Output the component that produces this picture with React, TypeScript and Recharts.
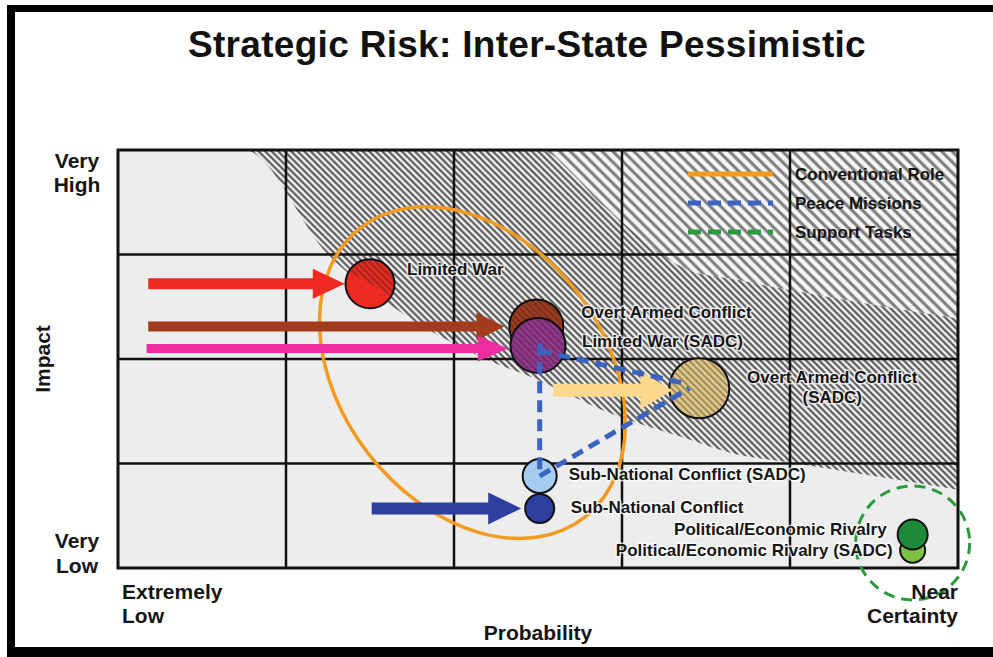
import React from 'react';
import {
  ComposedChart,
  XAxis,
  YAxis,
  Area,
  Scatter,
  ReferenceArea,
  ReferenceLine,
  ReferenceDot,
  Legend,
} from 'recharts';

const FONT = '"Liberation Sans", Arial, Helvetica, sans-serif';

// probability 0..5 (five columns), impact 0..4 (four rows)
const probabilityTicks = [0, 5];
const probabilityTickText = ['Extremely|Low', 'Near|Certainty'];
const impactTicks = [0, 4];
const impactTickText = ['Very|Low', 'Very|High'];
const gridProbability = [1, 2, 3, 4];
const gridImpact = [1, 2, 3];

// edges of the hatched risk band
const bandProbability = [0, 0.75, 1.25, 1.7, 2.2, 2.5, 2.9, 3.4, 3.65, 4.0, 4.5, 5];
const bandLow = [4, 4, 3.0, 2.43, 1.99, 1.8, 1.5, 1.23, 1.1, 1.01, 0.88, 0.75];
const bandHigh = [4, 4, 4, 4, 4, 4, 3.45, 2.85, 2.77, 2.66, 2.52, 2.39];

// risks (drawn in this order)
const riskNames = [
  'Political/Economic Rivalry (SADC)',
  'Political/Economic Rivalry',
  'Limited War',
  'Overt Armed Conflict',
  'Limited War (SADC)',
  'Overt Armed Conflict (SADC)',
  'Sub-National Conflict (SADC)',
  'Sub-National Conflict',
];
const riskLabels = [
  'Political/Economic Rivalry (SADC)',
  'Political/Economic Rivalry',
  'Limited War',
  'Overt Armed Conflict',
  'Limited War (SADC)',
  'Overt Armed Conflict\n(SADC)',
  'Sub-National Conflict (SADC)',
  'Sub-National Conflict',
];
const riskProbability = [4.73, 4.73, 1.5, 2.49, 2.5, 3.46, 2.51, 2.51];
const riskImpact = [0.17, 0.32, 2.72, 2.31, 2.13, 1.72, 0.88, 0.57];

// shifts towards the risks
const shiftNames = [
  'Limited War',
  'Overt Armed Conflict',
  'Limited War (SADC)',
  'Sub-National Conflict',
  'Overt Armed Conflict (SADC)',
];
const shiftFrom = [0.18, 0.18, 0.17, 1.51, 2.59];
const shiftTo = [1.35, 2.3, 2.32, 2.4, 3.3];
const shiftImpact = [2.72, 2.31, 2.1, 0.57, 1.7];

// peace mission links
const peaceFrom = [
  { x: 2.51, y: 2.15 },
  { x: 2.51, y: 2.08 },
  { x: 2.51, y: 0.88 },
];
const peaceTo = [
  { x: 2.51, y: 0.88 },
  { x: 3.39, y: 1.76 },
  { x: 3.4, y: 1.72 },
];

// role groupings
const conventionalCentre = { x: 2.11, y: 1.87 };
const supportCentre = { x: 4.73, y: 0.24 };

const legendNames = ['Conventional Role', 'Peace Missions', 'Support Tasks'];

const bandRows = bandProbability.map((x, i) => ({
  x,
  dense: [bandLow[i], bandHigh[i]],
  wide: [bandHigh[i], 4],
}));
const risks = riskNames.map((name, i) => ({
  name,
  label: riskLabels[i],
  x: riskProbability[i],
  y: riskImpact[i],
}));

const riskStyle: Record<string, any> = {
  'Political/Economic Rivalry (SADC)': { fill: '#7ec242', r: 12.5, hatch: 'none', dx: -20, dy: 6, anchor: 'end' },
  'Political/Economic Rivalry': { fill: '#1d8b3a', r: 15, hatch: 'none', dx: -26, dy: 0, anchor: 'end' },
  'Limited War': { fill: '#ec2a1f', r: 24.5, hatch: 'half', dx: 37, dy: -9, anchor: 'start' },
  'Overt Armed Conflict': { fill: '#a53b1d', r: 27, hatch: 'full', dx: 45, dy: -9, anchor: 'start' },
  'Limited War (SADC)': { fill: '#97378f', r: 27.5, hatch: 'full', dx: 44, dy: 2, anchor: 'start' },
  'Overt Armed Conflict (SADC)': { fill: '#e4c987', r: 30, hatch: 'full', dx: 133, dy: -5, anchor: 'middle' },
  'Sub-National Conflict (SADC)': { fill: '#a4cdef', r: 17, hatch: 'none', dx: 29, dy: 4, anchor: 'start' },
  'Sub-National Conflict': { fill: '#2c3e9e', r: 14.5, hatch: 'none', dx: 31, dy: 5, anchor: 'start' },
};

const arrowStyle: Record<string, any> = {
  'Limited War': { color: '#ee2a22', shaft: 11, headW: 30, headL: 32 },
  'Overt Armed Conflict': { color: '#a23a1c', shaft: 10, headW: 28, headL: 28 },
  'Limited War (SADC)': { color: '#ee2b9f', shaft: 9, headW: 26, headL: 30 },
  'Sub-National Conflict': { color: '#2d3f9f', shaft: 12, headW: 32, headL: 33 },
  'Overt Armed Conflict (SADC)': { color: '#fcd98c', shaft: 13, headW: 38, headL: 32 },
};

const legendStyle = [
  { color: '#f39a1f', dash: undefined },
  { color: '#3b63c0', dash: '13 7' },
  { color: '#2a9a3e', dash: '13 7' },
];

const textBold = { fontFamily: FONT, fontWeight: 700, fill: '#151515' };

const makeArrow = (name: string) => (p: any) => {
  const st = arrowStyle[name];
  const x1 = Number(p.x1);
  const x2 = Number(p.x2);
  const y = Number(p.y1);
  const bx = x2 - st.headL;
  const h = st.shaft / 2;
  const hw = st.headW / 2;
  const pts = [
    [x1, y - h], [bx, y - h], [bx, y - hw], [x2, y], [bx, y + hw], [bx, y + h], [x1, y + h],
  ];
  return <polygon points={pts.map((q) => q.join(',')).join(' ')} fill={st.color} />;
};

const Bubble = (p: any) => {
  const st = riskStyle[p.payload.name];
  const { cx, cy } = p;
  const r = st.r;
  let overlay = null;
  if (st.hatch === 'full') {
    overlay = <circle cx={cx} cy={cy} r={r} fill="url(#hatchOver)" />;
  } else if (st.hatch === 'half') {
    const a = (deg: number) => {
      const t = (deg * Math.PI) / 180;
      return `${cx + r * Math.cos(t)} ${cy + r * Math.sin(t)}`;
    };
    overlay = <path d={`M ${a(-150)} A ${r} ${r} 0 0 1 ${a(30)} Z`} fill="url(#hatchOver)" />;
  }
  return (
    <g>
      <circle cx={cx} cy={cy} r={r} fill={st.fill} />
      {overlay}
      <circle cx={cx} cy={cy} r={r} fill="none" stroke="#111" strokeWidth={2} />
    </g>
  );
};

const RiskLabel = (p: any) => {
  const st = riskStyle[p.payload.name];
  const lines = String(p.payload.label).split('\n');
  const x = p.cx + st.dx;
  return (
    <text
      x={x}
      y={p.cy + st.dy}
      textAnchor={st.anchor}
      fontSize={17}
      {...textBold}
      stroke="#ffffff"
      strokeOpacity={0.75}
      strokeWidth={3}
      strokeLinejoin="round"
      paintOrder="stroke"
    >
      {lines.map((l, i) => (
        <tspan key={i} x={x} dy={i === 0 ? 0 : 20}>
          {l}
        </tspan>
      ))}
    </text>
  );
};

const ProbabilityTick = (p: any) => {
  const i = probabilityTicks.indexOf(p.payload.value);
  if (i < 0) return <g />;
  const [a, b] = probabilityTickText[i].split('|');
  const end = i === probabilityTicks.length - 1;
  const x = end ? p.x : p.x + 4;
  return (
    <text x={x} y={p.y} textAnchor={end ? 'end' : 'start'} fontSize={21} {...textBold}>
      <tspan x={x} dy={31}>{a}</tspan>
      <tspan x={x} dy={24}>{b}</tspan>
    </text>
  );
};

const ImpactTick = (p: any) => {
  const i = impactTicks.indexOf(p.payload.value);
  if (i < 0) return <g />;
  const [a, b] = impactTickText[i].split('|');
  const top = i === impactTicks.length - 1;
  const x = p.x - 41;
  return (
    <text x={x} y={p.y} textAnchor="middle" fontSize={21} {...textBold}>
      <tspan x={x} dy={top ? 18 : -20}>{a}</tspan>
      <tspan x={x} dy={top ? 24 : 25}>{b}</tspan>
    </text>
  );
};

const ImpactTitle = (p: any) => {
  const vb = p.viewBox || { x: 38, y: 150, width: 80, height: 418 };
  const x = vb.x + 12;
  const y = vb.y + vb.height / 2;
  return (
    <text x={x} y={y} transform={`rotate(-90 ${x} ${y})`} textAnchor="middle" fontSize={21} {...textBold}>
      Impact
    </text>
  );
};

const RoleLegend = () => (
  <svg width={300} height={90}>
    {legendNames.map((name, i) => (
      <g key={name}>
        <line
          x1={8}
          x2={93}
          y1={16 + i * 29}
          y2={16 + i * 29}
          stroke={legendStyle[i].color}
          strokeWidth={5}
          strokeDasharray={legendStyle[i].dash}
        />
        <text x={115} y={22 + i * 29} fontSize={17} {...textBold}>
          {name}
        </text>
      </g>
    ))}
  </svg>
);

export default function App() {
  return (
    <div style={{ position: 'absolute', left: 0, top: 0, width: 993, height: 657, background: '#fff' }}>
      <div
        style={{
          position: 'absolute',
          left: 7,
          top: 5,
          width: 986,
          height: 652,
          boxSizing: 'border-box',
          borderLeft: '8px solid #000',
          borderTop: '7px solid #000',
          borderBottom: '10px solid #000',
        }}
      />
      <div
        style={{
          position: 'absolute',
          left: 127,
          top: 26,
          width: 800,
          textAlign: 'center',
          fontFamily: FONT,
          fontWeight: 700,
          fontSize: 37,
          lineHeight: '37px',
          letterSpacing: 0.3,
          whiteSpace: 'nowrap',
          color: '#111',
        }}
      >
        Strategic Risk: Inter-State Pessimistic
      </div>
      <div style={{ position: 'absolute', left: 0, top: 0 }}>
        <ComposedChart
          width={993}
          height={657}
          data={bandRows}
          margin={{ top: 150, right: 35, bottom: 9, left: 38 }}
        >
          <defs>
            <pattern id="hatchDense" patternUnits="userSpaceOnUse" width="4.6" height="4.6" patternTransform="rotate(-45)">
              <rect width="4.6" height="4.6" fill="#f2f2f2" />
              <line x1="2.3" y1="0" x2="2.3" y2="4.6" stroke="#4a4a4a" strokeWidth="2" />
            </pattern>
            <pattern id="hatchWide" patternUnits="userSpaceOnUse" width="7.5" height="7.5" patternTransform="rotate(-45)">
              <rect width="7.5" height="7.5" fill="#f6f6f6" />
              <line x1="3.75" y1="0" x2="3.75" y2="7.5" stroke="#7a7a7a" strokeWidth="3" />
            </pattern>
            <pattern id="hatchOver" patternUnits="userSpaceOnUse" width="4.6" height="4.6" patternTransform="rotate(-45)">
              <line x1="2.3" y1="0" x2="2.3" y2="4.6" stroke="#222" strokeOpacity="0.45" strokeWidth="1.7" />
            </pattern>
          </defs>
          <XAxis
            type="number"
            dataKey="x"
            domain={[0, 5]}
            ticks={probabilityTicks}
            interval={0}
            allowDataOverflow
            axisLine={false}
            tickLine={false}
            tickSize={0}
            tickMargin={0}
            height={80}
            tick={<ProbabilityTick />}
            label={{ value: 'Probability', position: 'insideBottom', offset: 8, fontSize: 21, fontWeight: 700, fontFamily: FONT, fill: '#151515' }}
          />
          <YAxis
            type="number"
            dataKey="y"
            domain={[0, 4]}
            ticks={impactTicks}
            interval={0}
            allowDataOverflow
            axisLine={false}
            tickLine={false}
            tickSize={0}
            tickMargin={0}
            width={80}
            tick={<ImpactTick />}
            label={ImpactTitle}
          />
          <ReferenceArea x1={0} x2={5} y1={0} y2={4} fill="#ededed" fillOpacity={1} stroke="none" zIndex={1} />
          <Area
            dataKey="dense"
            type="monotone"
            stroke="none"
            fill="url(#hatchDense)"
            fillOpacity={1}
            isAnimationActive={false}
            legendType="none"
            zIndex={2}
          />
          <Area
            dataKey="wide"
            type="monotone"
            stroke="none"
            fill="url(#hatchWide)"
            fillOpacity={1}
            isAnimationActive={false}
            legendType="none"
            zIndex={2}
          />
          {gridProbability.map((v) => (
            <ReferenceLine key={`gx${v}`} x={v} stroke="#111" strokeWidth={2.5} zIndex={3} />
          ))}
          {gridImpact.map((v) => (
            <ReferenceLine key={`gy${v}`} y={v} stroke="#111" strokeWidth={2.5} zIndex={3} />
          ))}
          <ReferenceArea x1={0} x2={5} y1={0} y2={4} fill="none" stroke="#111" strokeWidth={3} zIndex={3} />
          <ReferenceDot
            x={conventionalCentre.x}
            y={conventionalCentre.y}
            r={1}
            zIndex={4}
            shape={(p: any) => (
              <ellipse
                cx={p.cx}
                cy={p.cy}
                rx={183}
                ry={132}
                transform={`rotate(52.4 ${p.cx} ${p.cy})`}
                fill="none"
                stroke="#f39a1f"
                strokeWidth={3.5}
              />
            )}
          />
          <Scatter data={risks} dataKey="y" shape={Bubble} isAnimationActive={false} legendType="none" zIndex={5} />
          {shiftNames.map((name, i) => (
            <ReferenceLine
              key={`arrow${i}`}
              segment={[
                { x: shiftFrom[i], y: shiftImpact[i] },
                { x: shiftTo[i], y: shiftImpact[i] },
              ]}
              shape={makeArrow(name)}
              zIndex={6}
            />
          ))}
          {peaceFrom.map((s, i) => (
            <ReferenceLine
              key={`peace${i}`}
              segment={[s, peaceTo[i]]}
              stroke="#3b63c0"
              strokeWidth={5}
              strokeDasharray="12 7"
              zIndex={7}
            />
          ))}
          <ReferenceDot
            x={supportCentre.x}
            y={supportCentre.y}
            r={57}
            ifOverflow="visible"
            zIndex={7}
            shape={(p: any) => (
              <circle cx={p.cx} cy={p.cy} r={57} fill="none" stroke="#2a9a3e" strokeWidth={3} strokeDasharray="11 7" />
            )}
          />
          <Scatter data={risks} dataKey="y" shape={RiskLabel} isAnimationActive={false} legendType="none" zIndex={8} />
          <Legend
            layout="vertical"
            verticalAlign="middle"
            align="center"
            wrapperStyle={{ position: 'absolute', left: 680, top: 158, width: 300, height: 90 }}
            content={RoleLegend}
          />
        </ComposedChart>
      </div>
    </div>
  );
}
